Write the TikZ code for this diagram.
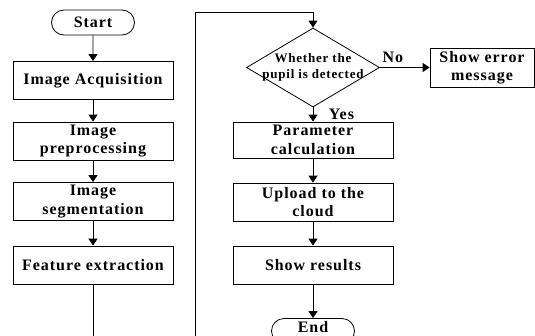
\documentclass[tikz,border=0pt]{standalone}
\usepackage{fontspec}
\setmainfont{Liberation Serif}[LetterSpace=6]
\usetikzlibrary{shapes.geometric,shapes.misc,arrows.meta}
\begin{document}
\begin{tikzpicture}[x=1pt,y=-1pt,
  every node/.style={font=\fontsize{16}{18.5}\selectfont\bfseries, align=center},
  box/.style={draw, line width=0.8pt, rectangle, minimum width=160pt, minimum height=38pt, inner sep=0pt},
  term/.style={draw, line width=0.8pt, rounded rectangle, minimum width=83pt, minimum height=25pt, inner sep=0pt},
  flow/.style={line width=0.8pt, -{Triangle[length=7pt,width=9pt]}},
  plain/.style={line width=0.8pt}]
\useasboundingbox (0,0) rectangle (535,335);
\node[term] (start) at (93,22.5) {Start};
\node[box] (acq) at (93,80.5) {Image Acquisition};
\node[box] (pre) at (93,141) {Image\\preprocessing};
\node[box] (seg) at (93,201.5) {Image\\segmentation};
\node[box] (fe) at (93,265) {Feature extraction};
\node[draw, line width=0.8pt, diamond, minimum width=133pt, minimum height=79pt, inner sep=0pt] (dec) at (313,67.5) {};
\node[font=\fontsize{13}{16}\selectfont\bfseries] (dect) at (dec.center) {Whether the\\pupil is detected};
\node[box, minimum width=104pt, minimum height=39pt] (err) at (482,67.5) {Show error\\message};
\node[box, minimum height=36pt] (par) at (313,140) {Parameter\\calculation};
\node[box] (up) at (313,202) {Upload to the\\cloud};
\node[box] (res) at (313,265) {Show results};
\node[term, minimum width=83pt] (end) at (313,331) {};
\node[yshift=4pt] (endt) at (end.center) {End};
\node (no) at (393,57.5) {No};
\node (yes) at (341.5,114) {Yes};
\coordinate (b1) at (93,345);
\coordinate (b2) at (195,345);
\coordinate (t1) at (195,12);
\coordinate (t2) at (313,12);
\draw[flow] (start) -- (acq);
\draw[flow] (acq) -- (pre);
\draw[flow] (pre) -- (seg);
\draw[flow] (seg) -- (fe);
\draw[plain] (fe.south) -- (b1) -- (b2) -- (t1) -- (t2);
\draw[flow] (t2) -- (dec.north);
\draw[flow] (dec.east) -- (dec.east -| err.west);
\draw[flow] (dec.south) -- (par.north);
\draw[flow] (par) -- (up);
\draw[flow] (up) -- (res);
\draw[flow] (res) -- (end);
\end{tikzpicture}
\end{document}
